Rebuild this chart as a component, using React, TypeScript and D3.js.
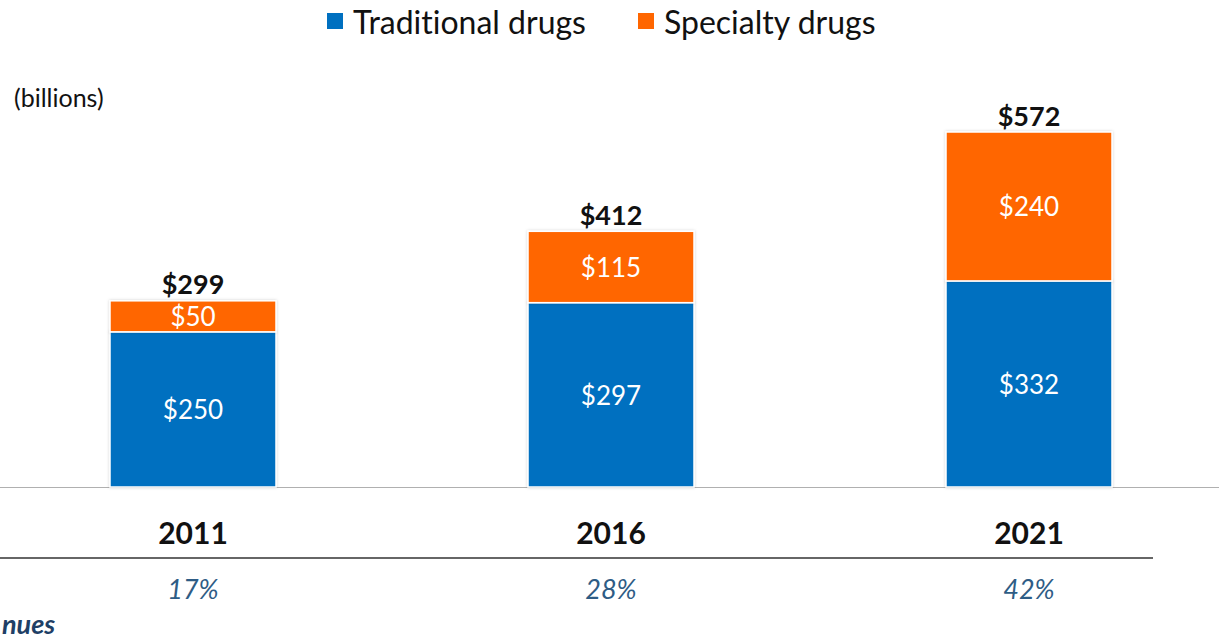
import React from "react";
import * as d3 from "d3";

const years = ["2011", "2016", "2021"];
const traditional = [250, 297, 332];
const specialty = [50, 115, 240];
const totals = ["$299", "$412", "$572"];
const shares = ["17%", "28%", "42%"];
const seriesNames = ["Traditional drugs", "Specialty drugs"];
const colors = ["#0070C0", "#FF6600"];

const W = 1219;
const H = 638;
const FONT = "Lato, 'Open Sans', sans-serif";

export default function App() {
  const x = d3.scalePoint<string>().domain(years).range([193, 1029]);
  const barW = 166;
  const y = d3.scaleLinear().domain([0, 572]).range([487, 132]);

  const rows = years.map((yr, i) => ({ year: yr, traditional: traditional[i], specialty: specialty[i] }));
  const stack = d3.stack<any>().keys(["traditional", "specialty"]);
  const layers = stack(rows);

  return (
    <svg
      width={W}
      height={H}
      style={{ position: "absolute", left: 0, top: 0, fontVariantLigatures: "none" }}
      fontFamily={FONT}
    >
      <defs>
        <filter id="sh" x="-10%" y="-10%" width="120%" height="120%">
          <feDropShadow dx="0" dy="0" stdDeviation="1.5" floodColor="#000" floodOpacity="0.18" />
        </filter>
      </defs>
      <rect width={W} height={H} fill="#fff" />

      {/* legend */}
      {seriesNames.map((name, i) => {
        const lx = [327, 638][i];
        return (
          <g key={name}>
            <rect x={lx} y={13} width={16} height={16} fill={colors[i]} />
            <text x={lx + 26} y={21} dominantBaseline="central" fontSize={32} fill="#111">
              {name}
            </text>
          </g>
        );
      })}

      <text x={14} y={97} dominantBaseline="central" fontSize={25} fill="#111">(billions)</text>

      {/* axis line */}
      <line x1={0} x2={W} y1={487.5} y2={487.5} stroke="#b0b0b0" strokeWidth={1.2} />

      {/* bars */}
      {layers.map((layer, li) =>
        layer.map((d, i) => {
          const x0 = (x(years[i]) as number) - barW / 2;
          const y0 = y(d[1]);
          const y1 = y(d[0]);
          return (
            <g key={`${li}-${i}`}>
              <rect x={x0} y={y0} width={barW} height={y1 - y0} fill={colors[li]} stroke="#fff" strokeWidth={1.5} filter="url(#sh)" />
              <text
                x={x(years[i])}
                y={(y0 + y1) / 2}
                dominantBaseline="central"
                textAnchor="middle"
                fill="#fff"
                fontSize={26}
              >
                {"$" + (li === 0 ? traditional[i] : specialty[i])}
              </text>
            </g>
          );
        })
      )}

      {/* totals */}
      {years.map((yr, i) => (
        <text
          key={"t" + yr}
          x={x(yr)}
          y={y(traditional[i] + specialty[i]) - 17}
          dominantBaseline="central"
          textAnchor="middle"
          fontWeight="bold"
          fontSize={27}
          fill="#111"
        >
          {totals[i]}
        </text>
      ))}

      {/* year labels */}
      {years.map((yr) => (
        <text key={"y" + yr} x={x(yr)} y={532} dominantBaseline="central" textAnchor="middle" fontWeight="bold" fontSize={30} fill="#111">
          {yr}
        </text>
      ))}

      <line x1={0} x2={1153} y1={558} y2={558} stroke="#666" strokeWidth={2} />

      {shares.map((s, i) => (
        <text key={"s" + i} x={x(years[i])} y={588} dominantBaseline="central" textAnchor="middle" fontStyle="italic" fontSize={27} fill="#2E5C85">
          {s}
        </text>
      ))}

      <text x={2} y={623} dominantBaseline="central" textAnchor="start" fontStyle="italic" fontWeight="bold" fontSize={27} fill="#1F3F66">
        nues
      </text>
    </svg>
  );
}
